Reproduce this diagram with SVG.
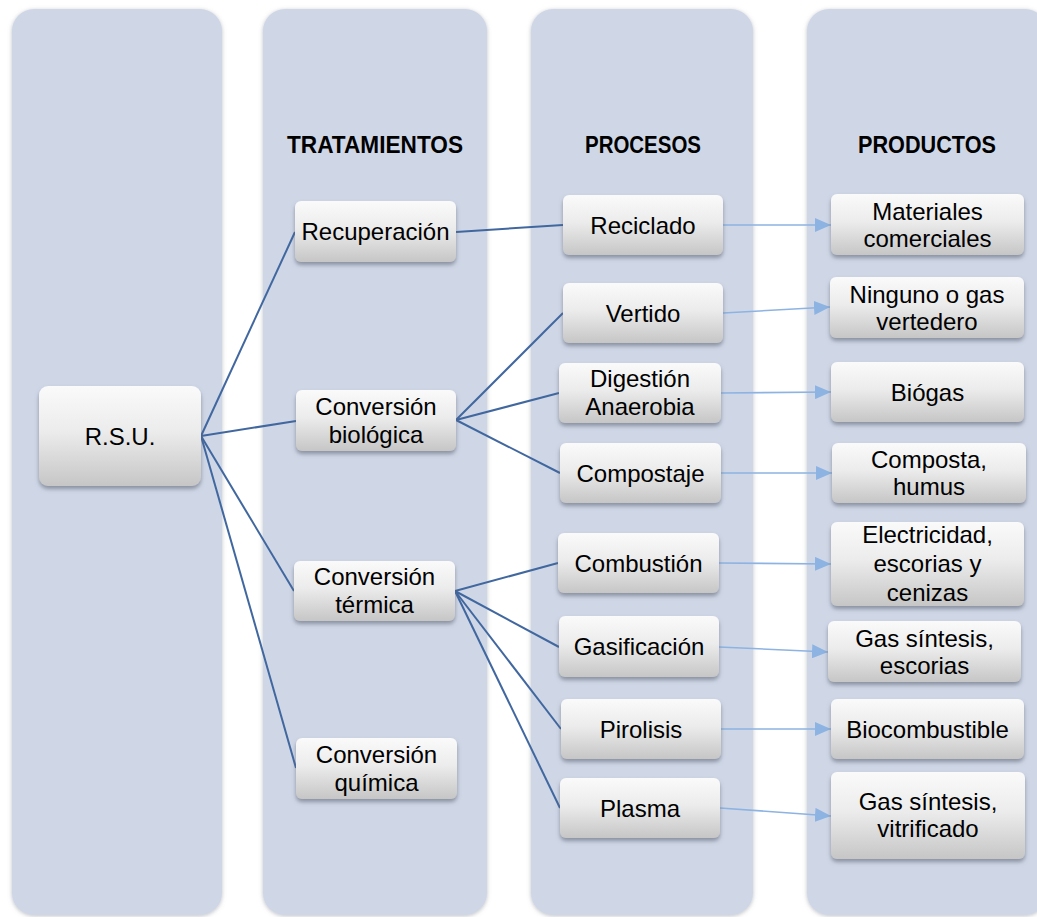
<svg xmlns="http://www.w3.org/2000/svg" width="1037" height="917" viewBox="0 0 1037 917">
  <defs>
    <linearGradient id="nodeFill" x1="0" y1="0" x2="0" y2="1">
      <stop offset="0" stop-color="#fafafa"/>
      <stop offset="0.45" stop-color="#ececec"/>
      <stop offset="1" stop-color="#c6c6c6"/>
    </linearGradient>
    <filter id="colShadow" x="-10%" y="-5%" width="120%" height="110%">
      <feDropShadow dx="0" dy="1" stdDeviation="2" flood-color="#8a8f99" flood-opacity="0.55"/>
    </filter>
    <filter id="nodeShadow" x="-10%" y="-20%" width="120%" height="150%">
      <feDropShadow dx="0" dy="3" stdDeviation="2.2" flood-color="#5b6273" flood-opacity="0.6"/>
    </filter>
    <marker id="arrowHead" viewBox="0 0 16 14" refX="16" refY="7" markerWidth="16" markerHeight="14" markerUnits="userSpaceOnUse" orient="auto">
      <path d="M0,0 L16,7 L0,14 Z" fill="#8db3e2"/>
    </marker>
  </defs>
  <style>
    .col { fill: #cfd7e7; filter: url(#colShadow); }
    .box { fill: url(#nodeFill); filter: url(#nodeShadow); }
    .lbl { font-family: "Liberation Sans", Arial, sans-serif; font-size: 24px; fill: #000; text-anchor: middle; }
    .hdr { font-family: "Liberation Sans", Arial, sans-serif; font-size: 23px; font-weight: bold; fill: #000; text-anchor: middle; }
    .link { stroke: #41679f; stroke-width: 2; fill: none; }
    .flow { stroke: #8db3e2; stroke-width: 1.6; fill: none; marker-end: url(#arrowHead); }
  </style>

  <rect width="1037" height="917" fill="#ffffff"/>

  <!-- column bands -->
  <g id="columns">
    <rect class="col" x="12" y="9" width="210" height="906" rx="22"/>
    <rect class="col" x="263" y="9" width="224" height="906" rx="22"/>
    <rect class="col" x="531" y="9" width="222" height="906" rx="22"/>
    <rect class="col" x="807" y="9" width="240" height="906" rx="22"/>
  </g>

  <!-- column headings -->
  <g id="headings">
    <text class="hdr" x="375" y="153" textLength="176" lengthAdjust="spacingAndGlyphs">TRATAMIENTOS</text>
    <text class="hdr" x="643" y="153" textLength="116" lengthAdjust="spacingAndGlyphs">PROCESOS</text>
    <text class="hdr" x="927" y="153" textLength="138" lengthAdjust="spacingAndGlyphs">PRODUCTOS</text>
  </g>

  <!-- connectors -->
  <g id="connectors">
    <path class="link" d="M201,436 L295,232"/>
    <path class="link" d="M201,436 L296,421"/>
    <path class="link" d="M201,436 L294,591"/>
    <path class="link" d="M201,436 L296,768"/>
    <path class="link" d="M456,232 L563,225"/>
    <path class="link" d="M456,420 L563,313"/>
    <path class="link" d="M456,420 L559,393"/>
    <path class="link" d="M456,420 L560,473"/>
    <path class="link" d="M455,591 L558,563"/>
    <path class="link" d="M455,591 L559,647"/>
    <path class="link" d="M455,591 L561,729"/>
    <path class="link" d="M455,591 L560,808"/>
    <path class="flow" d="M723,225 L831,225"/>
    <path class="flow" d="M723,313 L830,307"/>
    <path class="flow" d="M721,393 L831,392"/>
    <path class="flow" d="M721,473 L832,473"/>
    <path class="flow" d="M719,563 L831,564"/>
    <path class="flow" d="M719,647 L828,652"/>
    <path class="flow" d="M721,729 L831,729"/>
    <path class="flow" d="M720,808 L831,816"/>
  </g>

  <!-- source -->
  <g id="rsu">
    <rect class="box" x="39" y="386" width="162" height="100" rx="9"/>
    <text class="lbl" x="120" y="445">R.S.U.</text>
  </g>

  <!-- treatments -->
  <g id="recuperacion">
    <rect class="box" x="295" y="201" width="161" height="61" rx="6"/>
    <text class="lbl" x="375.5" y="240">Recuperación</text>
  </g>
  <g id="conversion-biologica">
    <rect class="box" x="296" y="390" width="160" height="61" rx="6"/>
    <text class="lbl" x="376" y="415">Conversión</text>
    <text class="lbl" x="376" y="443">biológica</text>
  </g>
  <g id="conversion-termica">
    <rect class="box" x="294" y="561" width="161" height="60" rx="6"/>
    <text class="lbl" x="374.5" y="585">Conversión</text>
    <text class="lbl" x="374.5" y="613">térmica</text>
  </g>
  <g id="conversion-quimica">
    <rect class="box" x="296" y="738" width="161" height="61" rx="6"/>
    <text class="lbl" x="376.5" y="763">Conversión</text>
    <text class="lbl" x="376.5" y="791">química</text>
  </g>

  <!-- processes -->
  <g id="reciclado">
    <rect class="box" x="563" y="195" width="160" height="60" rx="6"/>
    <text class="lbl" x="643" y="234">Reciclado</text>
  </g>
  <g id="vertido">
    <rect class="box" x="563" y="283" width="160" height="60" rx="6"/>
    <text class="lbl" x="643" y="322">Vertido</text>
  </g>
  <g id="digestion-anaerobia">
    <rect class="box" x="559" y="363" width="162" height="60" rx="6"/>
    <text class="lbl" x="640" y="387">Digestión</text>
    <text class="lbl" x="640" y="415">Anaerobia</text>
  </g>
  <g id="compostaje">
    <rect class="box" x="560" y="443" width="161" height="60" rx="6"/>
    <text class="lbl" x="640.5" y="482">Compostaje</text>
  </g>
  <g id="combustion">
    <rect class="box" x="558" y="533" width="161" height="60" rx="6"/>
    <text class="lbl" x="638.5" y="572">Combustión</text>
  </g>
  <g id="gasificacion">
    <rect class="box" x="559" y="616" width="160" height="61" rx="6"/>
    <text class="lbl" x="639" y="655">Gasificación</text>
  </g>
  <g id="pirolisis">
    <rect class="box" x="561" y="699" width="160" height="60" rx="6"/>
    <text class="lbl" x="641" y="738">Pirolisis</text>
  </g>
  <g id="plasma">
    <rect class="box" x="560" y="778" width="160" height="60" rx="6"/>
    <text class="lbl" x="640" y="817">Plasma</text>
  </g>

  <!-- products -->
  <g id="materiales-comerciales">
    <rect class="box" x="831" y="194" width="193" height="61" rx="6"/>
    <text class="lbl" x="927.5" y="220">Materiales</text>
    <text class="lbl" x="927.5" y="247">comerciales</text>
  </g>
  <g id="ninguno-gas-vertedero">
    <rect class="box" x="830" y="277" width="194" height="61" rx="6"/>
    <text class="lbl" x="927" y="303">Ninguno o gas</text>
    <text class="lbl" x="927" y="330">vertedero</text>
  </g>
  <g id="biogas">
    <rect class="box" x="831" y="362" width="193" height="60" rx="6"/>
    <text class="lbl" x="927.5" y="401">Biógas</text>
  </g>
  <g id="composta-humus">
    <rect class="box" x="832" y="443" width="194" height="60" rx="6"/>
    <text class="lbl" x="929" y="468">Composta,</text>
    <text class="lbl" x="929" y="495">humus</text>
  </g>
  <g id="electricidad">
    <rect class="box" x="831" y="522" width="193" height="84" rx="6"/>
    <text class="lbl" x="927.5" y="543">Electricidad,</text>
    <text class="lbl" x="927.5" y="572">escorias y</text>
    <text class="lbl" x="927.5" y="601">cenizas</text>
  </g>
  <g id="gas-sintesis-escorias">
    <rect class="box" x="828" y="621" width="193" height="61" rx="6"/>
    <text class="lbl" x="924.5" y="647">Gas síntesis,</text>
    <text class="lbl" x="924.5" y="674">escorias</text>
  </g>
  <g id="biocombustible">
    <rect class="box" x="831" y="699" width="193" height="60" rx="6"/>
    <text class="lbl" x="927.5" y="738">Biocombustible</text>
  </g>
  <g id="gas-sintesis-vitrificado">
    <rect class="box" x="831" y="772" width="194" height="87" rx="6"/>
    <text class="lbl" x="928" y="810">Gas síntesis,</text>
    <text class="lbl" x="928" y="837">vitrificado</text>
  </g>
</svg>
